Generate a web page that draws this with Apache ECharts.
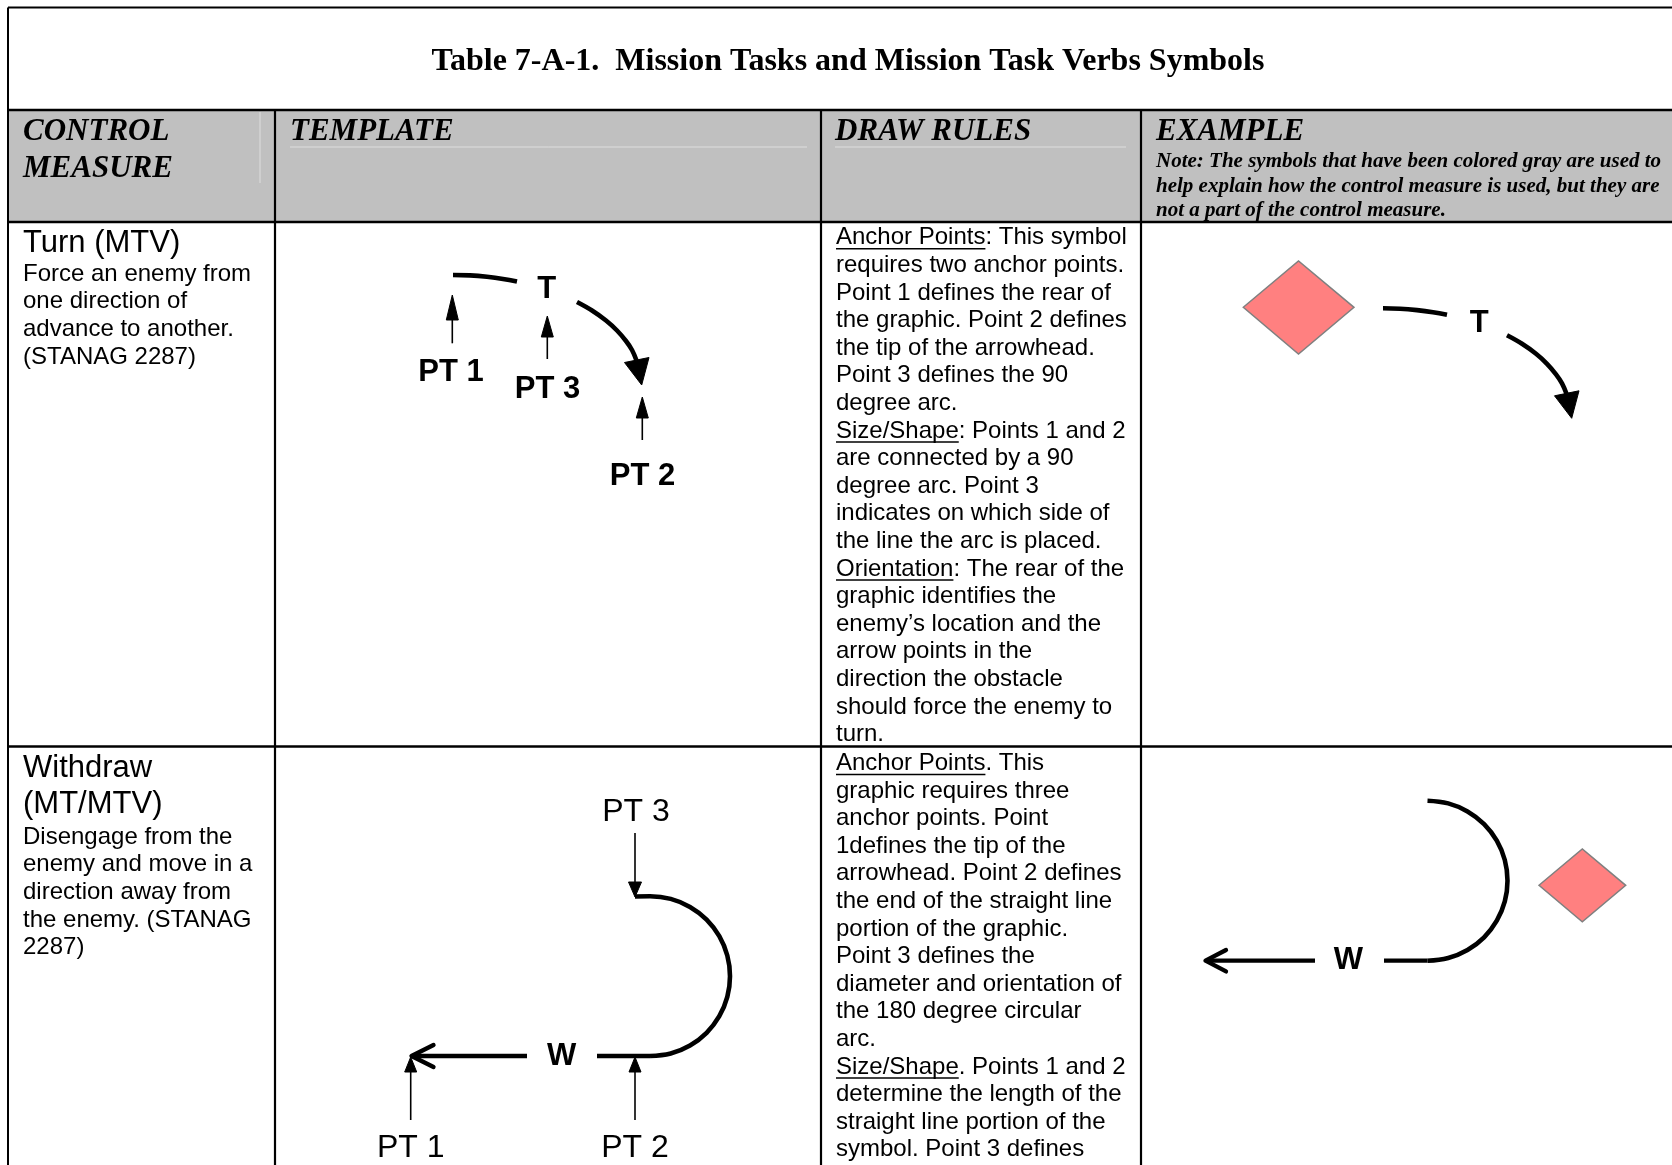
<!DOCTYPE html>
<html><head><meta charset="utf-8">
<script src="https://cdn.jsdelivr.net/npm/echarts@6/dist/echarts.min.js"></script>
<style>html,body{margin:0;padding:0;background:#fff}#c{width:1672px;height:1165px}</style>
</head><body><div id="c"></div>
<script>
// ---------------- content ----------------
const titleText = 'Table 7-A-1.  Mission Tasks and Mission Task Verbs Symbols';
const headerLabels = [['CONTROL', 'MEASURE'], ['TEMPLATE'], ['DRAW RULES'], ['EXAMPLE']];
const exampleNote = [
  'Note: The symbols that have been colored gray are used to',
  'help explain how the control measure is used, but they are',
  'not a part of the control measure.'
];
const measureNames = [['Turn (MTV)'], ['Withdraw', '(MT/MTV)']];
const measureDescriptions = [
  ['Force an enemy from', 'one direction of', 'advance to another.', '(STANAG 2287)'],
  ['Disengage from the', 'enemy and move in a', 'direction away from', 'the enemy. (STANAG', '2287)']
];
const drawRules = [
  ['Anchor Points: This symbol', 'requires two anchor points.', 'Point 1 defines the rear of',
   'the graphic. Point 2 defines', 'the tip of the arrowhead.', 'Point 3 defines the 90',
   'degree arc.', 'Size/Shape: Points 1 and 2', 'are connected by a 90', 'degree arc. Point 3',
   'indicates on which side of', 'the line the arc is placed.', 'Orientation: The rear of the',
   'graphic identifies the', 'enemy\u2019s location and the', 'arrow points in the',
   'direction the obstacle', 'should force the enemy to', 'turn.'],
  ['Anchor Points. This', 'graphic requires three', 'anchor points. Point', '1defines the tip of the',
   'arrowhead. Point 2 defines', 'the end of the straight line', 'portion of the graphic.',
   'Point 3 defines the', 'diameter and orientation of', 'the 180 degree circular', 'arc.',
   'Size/Shape. Points 1 and 2', 'determine the length of the', 'straight line portion of the',
   'symbol. Point 3 defines']
];
const underlinedTerms = ['Anchor Points', 'Size/Shape', 'Orientation'];

// ---------------- diagram geometry (page pixel units) ----------------
const thickArcs = [
  [[453,275],[470,275.4],[487,276.8],[503,278.9],[517,281.5]],
  [[577,302],[592,310.5],[606,320.5],[617,330.5],[626,341],[632,350],[636.5,360.5]],
  [[1383,308.3],[1400,308.7],[1417,310.1],[1433,312.2],[1447,314.8]],
  [[1507,335.3],[1522,343.8],[1536,353.8],[1547,363.8],[1556,374.3],[1562,383.3],[1566.5,393.8]],
  [[635,896.5],[650,896.3],[670.7,898.9],[690,906.9],[706.6,919.6],[719.3,936.2],[727.3,955.5],[730,976.2],
   [727.3,996.9],[719.3,1016.2],[706.6,1032.8],[690,1045.5],[670.7,1053.5],[650,1056]],
  [[1427.5,800.7],[1448.2,803.4],[1467.5,811.4],[1484.1,824.1],[1496.8,840.7],[1504.8,860],[1507.5,880.7],
   [1504.8,901.4],[1496.8,920.7],[1484.1,937.3],[1467.5,950],[1448.2,958],[1427.5,960.7]]
];
const thickStraight = [
  [[650,1056],[597,1056]], [[527,1056],[412,1056]],
  [[1427.5,960.7],[1384,960.7]], [[1315,960.7],[1207,960.7]]
];
const chevrons = [
  [[433.5,1045],[411.5,1056],[433.5,1067]],
  [[1226,950],[1205.5,960.7],[1226,971.4]]
];
const thinShafts = [
  [[452.3,343.3],[452.3,318]], [[547.3,359],[547.3,334]], [[642.3,440],[642.3,416]],
  [[635,833],[635,884]], [[410.7,1120],[410.7,1070]], [[635,1120],[635,1070]]
];
// tip x,y, base corner 1 x,y, base corner 2 x,y
const arrowHeads = [
  [641.7,385, 624.5,362.5, 649,357.5],
  [1571.7,418.3, 1554.5,395.8, 1579,390.8],
  [452.3,295, 446.3,320, 458.3,320],
  [547.3,316, 541.3,337, 553.3,337],
  [642.3,397, 636.3,418, 648.3,418],
  [635,897, 628.5,882, 641.5,882],
  [410.7,1057, 404.7,1072, 416.7,1072],
  [635,1057, 629,1072, 641,1072]
];
// left, top, right, bottom corners
const enemyDiamonds = [
  [1243.3,307.3, 1298.5,261, 1354,307.3, 1298.5,354],
  [1539,885.3, 1582.3,849, 1625.7,885.3, 1582.3,921.7]
];
const boldLabelText = ['T', 'PT 1', 'PT 3', 'PT 2', 'T', 'W', 'W'];
const boldLabelPos = [[546.7,289], [451,372.5], [547.5,389.5], [642.5,476], [1479.3,323.5], [561.7,1056.5], [1348.5,960.5]];
const plainLabelText = ['PT 3', 'PT 1', 'PT 2'];
const plainLabelPos = [[636,812.5], [410.7,1148.5], [635,1148.5]];

// ---------------- layout ----------------
const SANS = '"Liberation Sans", Arial, sans-serif';
const SERIF = '"Liberation Serif", "Times New Roman", serif';
const colX = [8, 275, 821, 1141];
const tableTop = 7.5, headTop = 110, headBottom = 222, rowSplit = 746.5, pageW = 1672, pageH = 1165;
const bodyFont = '24px ' + SANS;
const step = 27.6;

const mctx = document.createElement('canvas').getContext('2d');
function textWidth(s, font) { mctx.font = font; return mctx.measureText(s).width; }
function txt(x, y, text, font, align) {
  align = align || 'left';
  return {type:'text', x:x, y:y, silent:true, z:10,
    style:{text:text, font:font, fill:'#000', textAlign:align, textVerticalAlign:'middle', align:align, verticalAlign:'middle'}};
}
function hline(x1, x2, y, w, c) { return {type:'line', silent:true, z:5, shape:{x1:x1, y1:y, x2:x2, y2:y}, style:{stroke:c || '#000', lineWidth:w}}; }
function vline(x, y1, y2, w, c) { return {type:'line', silent:true, z:5, shape:{x1:x, y1:y1, x2:x, y2:y2}, style:{stroke:c || '#000', lineWidth:w}}; }

const g = [];
g.push({type:'rect', silent:true, z:1, shape:{x:colX[0], y:headTop, width:pageW - colX[0], height:headBottom - headTop}, style:{fill:'#c0c0c0'}});
g.push(vline(260, 112, 183, 1, '#dedede'));
g.push(hline(290, 807, 147, 1, '#dedede'));
g.push(hline(835, 1126, 147, 1, '#dedede'));
g.push(hline(colX[0], pageW, tableTop, 2));
g.push(vline(colX[0], tableTop, pageH, 2));
g.push(hline(colX[0], pageW, headTop, 2.5));
g.push(hline(colX[0], pageW, headBottom, 2.5));
g.push(hline(colX[0], pageW, rowSplit, 2.5));
for (let i = 1; i < colX.length; i++) g.push(vline(colX[i], headTop, pageH, 2.2));

g.push(txt(848, 62, titleText, 'bold 32px ' + SERIF, 'center'));
const headFont = 'italic bold 31px ' + SERIF;
const headX = [23, 290, 835, 1156];
headerLabels.forEach((lines, i) => lines.forEach((t, j) => g.push(txt(headX[i], 132 + j * 37, t, headFont))));
exampleNote.forEach((t, j) => g.push(txt(1156, 162 + j * 24.5, t, 'italic bold 21px ' + SERIF)));

const nameFont = '31px ' + SANS;
const nameY = [[243], [768, 804]];
const descY0 = [274, 837];
const ruleY0 = [237.7, 763.4];
measureNames.forEach((lines, r) => lines.forEach((t, j) => g.push(txt(23, nameY[r][j], t, nameFont))));
measureDescriptions.forEach((lines, r) => lines.forEach((t, j) => g.push(txt(23, descY0[r] + j * 27.7, t, bodyFont))));
drawRules.forEach((lines, r) => lines.forEach((t, j) => {
  const y = ruleY0[r] + j * step;
  g.push(txt(836, y, t, bodyFont));
  underlinedTerms.forEach(term => {
    if (t.indexOf(term) === 0) g.push(hline(836, 836 + textWidth(term, bodyFont), y + 11, 1.5));
  });
}));

// ---------------- chart ----------------
function polyRender(fill, stroke, lw, n) {
  return function (params, api) {
    const pts = [];
    for (let k = 0; k < n; k += 2) pts.push(api.coord([api.value(k), api.value(k + 1)]));
    return {type:'polygon', shape:{points:pts}, style:{fill:fill, stroke:stroke, lineWidth:lw}};
  };
}
function labelRender(texts, font) {
  return function (params, api) {
    const p = api.coord([api.value(0), api.value(1)]);
    return {type:'text', x:p[0], y:p[1], style:{text:texts[params.dataIndex], font:font, fill:'#000',
      align:'center', verticalAlign:'middle', textAlign:'center', textVerticalAlign:'middle'}};
  };
}
const series = [];
thickArcs.forEach(pts => series.push({type:'line', data:pts, smooth:0.4, symbol:'none', showSymbol:false, clip:false, silent:true,
  lineStyle:{color:'#000', width:4.6}, z:3}));
series.push({type:'lines', coordinateSystem:'cartesian2d', polyline:true, silent:true, z:3,
  data:thickStraight.map(c => ({coords:c})), lineStyle:{color:'#000', width:4.3, opacity:1, cap:'butt'}});
series.push({type:'lines', coordinateSystem:'cartesian2d', polyline:true, silent:true, z:3,
  data:chevrons.map(c => ({coords:c})), lineStyle:{color:'#000', width:4.3, opacity:1, cap:'round', join:'round'}});
series.push({type:'lines', coordinateSystem:'cartesian2d', polyline:true, silent:true, z:3,
  data:thinShafts.map(c => ({coords:c})), lineStyle:{color:'#000', width:1.6, opacity:1}});
series.push({type:'custom', coordinateSystem:'cartesian2d', silent:true, z:4, clip:false,
  dimensions:['tx','ty','ax','ay','bx','by'], encode:{x:[0,2,4], y:[1,3,5]},
  data:arrowHeads, renderItem:polyRender('#000', '#000', 1, 6)});
series.push({type:'custom', coordinateSystem:'cartesian2d', silent:true, z:4, clip:false,
  dimensions:['lx','ly','tx','ty','rx','ry','bx','by'], encode:{x:[0,2,4,6], y:[1,3,5,7]},
  data:enemyDiamonds, renderItem:polyRender('#ff8080', '#808080', 1.5, 8)});
series.push({type:'custom', coordinateSystem:'cartesian2d', silent:true, z:6, clip:false,
  data:boldLabelPos, renderItem:labelRender(boldLabelText, 'bold 31px ' + SANS)});
series.push({type:'custom', coordinateSystem:'cartesian2d', silent:true, z:6, clip:false,
  data:plainLabelPos, renderItem:labelRender(plainLabelText, '32px ' + SANS)});

const chart = echarts.init(document.getElementById('c'));
chart.setOption({
  animation:false,
  backgroundColor:'#fff',
  grid:{left:0, right:0, top:0, bottom:0, containLabel:false},
  xAxis:{type:'value', min:0, max:pageW, show:false},
  yAxis:{type:'value', min:0, max:pageH, inverse:true, show:false},
  graphic:{elements:g},
  series:series
});
</script></body></html>
